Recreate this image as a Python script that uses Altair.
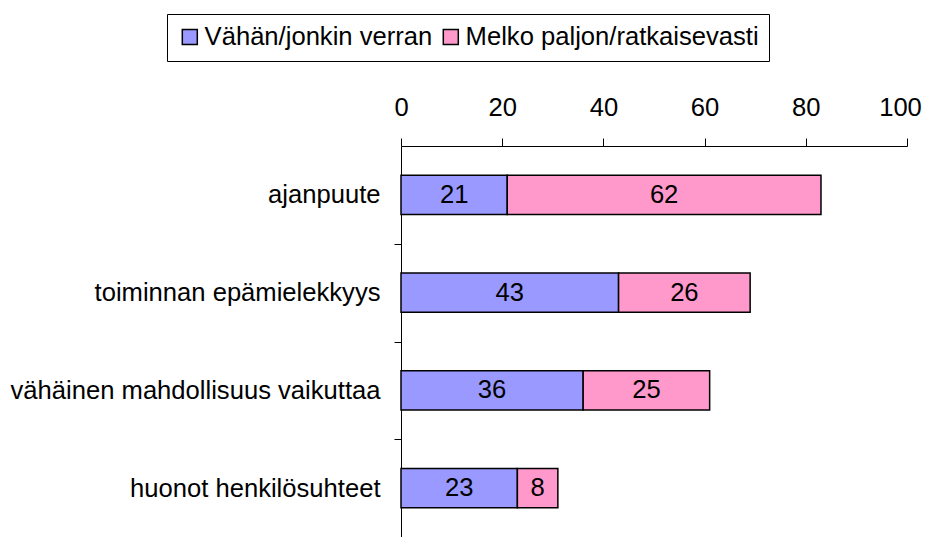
import altair as alt
import pandas as pd

categories = ["ajanpuute", "toiminnan epämielekkyys", "vähäinen mahdollisuus vaikuttaa", "huonot henkilösuhteet"]
series = ["Vähän/jonkin verran", "Melko paljon/ratkaisevasti"]
vahan = [21, 43, 36, 23]
melko = [62, 26, 25, 8]
colors = ["#9999FF", "#FF99CC"]
x_ticks = [0, 20, 40, 60, 80, 100]

rows = []
for i, c in enumerate(categories):
    rows.append({"category": c, "series": series[0], "value": vahan[i], "ord": 0})
    rows.append({"category": c, "series": series[1], "value": melko[i], "ord": 1})
df = pd.DataFrame(rows)

FONT = "Liberation Sans"
FS = 25.6
STEP_HALF = 48.9

base = alt.Chart(df).transform_stack(
    stack="value", groupby=["category"], as_=["v0", "v1"], sort=[{"field": "ord", "order": "ascending"}]
).transform_calculate(mid="(datum.v0 + datum.v1) / 2")

y_enc = alt.Y(
    "category:N",
    sort=categories,
    scale=alt.Scale(paddingInner=0.6, paddingOuter=0.3),
    axis=alt.Axis(
        title=None, orient="left", labelFont=FONT, labelFontSize=FS, labelColor="black",
        domainColor="black", domainWidth=1, tickColor="black", tickSize=7, tickWidth=1,
        tickOffset=STEP_HALF, labelOffset=-STEP_HALF, labelPadding=14, labelLimit=600,
    ),
)

x_axis = alt.Axis(
    title=None, orient="top", values=x_ticks, grid=False, labelFont=FONT, labelFontSize=FS,
    labelColor="black", domainColor="black", domainWidth=1, tickColor="black",
    tickSize=8, tickWidth=1, labelPadding=18, labelFlush=False,
    labelOffset={"condition": {"test": "datum.value === 100", "value": -7}, "value": 0},
)

bars = base.mark_bar(stroke="black", strokeWidth=1.5).encode(
    x=alt.X("v0:Q", scale=alt.Scale(domain=[0, 100], nice=False), axis=x_axis),
    x2="v1:Q",
    y=y_enc,
    color=alt.Color(
        "series:N",
        sort=series,
        scale=alt.Scale(domain=series, range=colors),
        legend=alt.Legend(
            title=None, orient="none", legendX=-234, legendY=-132, direction="horizontal",
            strokeColor="black", padding=10, symbolType="square", symbolSize=225,
            symbolStrokeColor="black", symbolStrokeWidth=1.5, labelFont=FONT, labelFontSize=FS,
            labelColor="black", labelOffset=2, columnPadding=5, labelLimit=600,
        ),
    ),
    order=alt.Order("ord:Q"),
)

labels = base.mark_text(font=FONT, fontSize=FS, color="black", baseline="middle", align="center").encode(
    x=alt.X("mid:Q", scale=alt.Scale(domain=[0, 100], nice=False), axis=x_axis),
    y=alt.Y("category:N", sort=categories),
    text="value:Q",
)

chart = (bars + labels).properties(
    width=506, height=391,
    autosize=alt.AutoSizeParams(type="none"),
    padding={"left": 393, "top": 138, "right": 15, "bottom": 0},
).configure(background="white").configure_view(stroke="transparent", strokeWidth=0)

chart.save("out.html", embed_options={"renderer": "svg", "actions": False})
